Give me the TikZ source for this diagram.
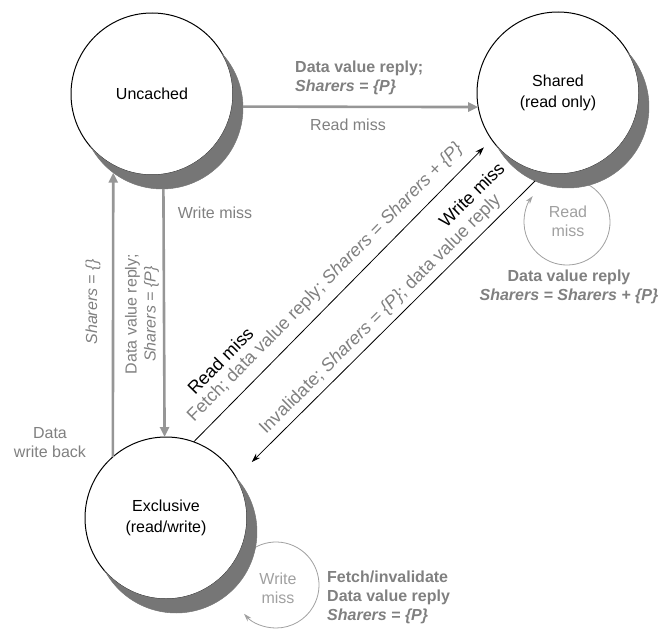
\documentclass[tikz,border=0pt]{standalone}
\usepackage{fontspec}
\setmainfont{Liberation Sans}
\usepackage{tikz}
\usetikzlibrary{arrows.meta}
\definecolor{lblgray}{RGB}{128,128,128}
\definecolor{loopgray}{RGB}{160,160,160}
\definecolor{arrgray}{RGB}{150,150,150}
\definecolor{shadowgrey}{RGB}{118,118,118}

\begin{document}
\begin{tikzpicture}[
    x=1pt, y=1pt,
    state/.style={draw,circle,fill=white,line width=1pt,minimum size=162pt,
      inner sep=0pt,outer sep=0pt,align=center,font=\fontsize{16}{21}\selectfont},
    shadowdisc/.style={circle,minimum size=162pt,inner sep=0pt,outer sep=0pt},
    crescent/.style={fill=shadowgrey,draw=shadowgrey,line width=0.5pt},
    lab/.style={text=lblgray,font=\fontsize{16}{19}\selectfont,inner sep=1pt},
    labb/.style={lab,font=\fontsize{16}{19}\selectfont\bfseries},
    dlab/.style={lab,font=\fontsize{18}{19}\selectfont},
    blab/.style={dlab,text=black},
    llab/.style={lab,text=loopgray},
    thickarr/.style={arrgray,line width=2.6pt,-{Triangle[length=10pt,width=9pt]}},
    thinarr/.style={black,line width=0.8pt,-{Stealth[length=9pt,width=6pt]}},
    loopy/.style={loopgray,line width=0.8pt,-{Stealth[length=8pt,width=5pt]}}
  ]
    \useasboundingbox (0,0) rectangle (664,-629);

    % states and the discs their shadows come from
    \node[shadowdisc] (uncs) at (162,-108) {};
    \node[shadowdisc] (shs) at (568,-107) {};
    \node[shadowdisc] (excs) at (176,-532) {};
    \node[state] (unc) at (152,-94) {Uncached};
    \node[state] (sh) at (558,-93) {Shared\\(read only)};
    \node[state] (exc) at (166,-518) {Exclusive\\(read/write)};

    % self loops go under the shadows
    \coordinate (shloop) at (567,-222);
    \coordinate (exloop) at (276,-585);
    \draw[loopy] ([shift={(62:43)}]shloop) arc[start angle=62,end angle=-217,radius=43];
    \draw[loopy] ([shift={(150:43)}]exloop) arc[start angle=150,end angle=-138,radius=43];

    % shadow crescents: along the shadow disc, back along the state
    \foreach \sd in {uncs,shs,excs}
      \path[crescent] ([shift={(41.6:81)}]\sd.center)
        arc[start angle=41.6,end angle=-150.6,radius=81]
        arc[start angle=-138.4,end angle=29.4,radius=81] -- cycle;

    \draw[thickarr] (uncs.1) -- (sh.190);
    \draw[thickarr] (exc.131) -- (uncs.233);
    \draw[thickarr] (uncs.-89) -- (exc.91);

    \draw[thinarr,shorten >=11pt] (exc.70) -- (sh.215)
      node[blab,pos=.18,sloped,yshift=38pt] (rmA) {Read miss}
      node[dlab,pos=.485,sloped,yshift=18pt] (fetchA)
        {Fetch; data value reply; \textit{Sharers = Sharers + \{P\}}};
    \draw[thinarr,shorten >=22pt] (shs.246) -- (exc.30)
      node[blab,pos=.13,sloped,yshift=35pt] (wmB) {Write miss}
      node[dlab,pos=.484,sloped,yshift=14pt] (invB)
        {Invalidate; \textit{Sharers = \{P\}}; data value reply};

    % labels
    \node[labb,align=left,anchor=west] (dvrU) at (294,-78)
      {Data value reply;\\\textit{Sharers = \{P\}}};
    \node[lab] (rmU) at (348,-125) {Read miss};
    \node[lab] (wmU) at (215,-213) {Write miss};
    \node[lab,rotate=90] (shrE) at (93,-302) {\textit{Sharers = \{\}}};
    \node[lab,rotate=90,align=center] (dvrE) at (142,-314)
      {Data value reply;\\\textit{Sharers = \{P\}}};
    \node[lab,align=center] (dwb) at (50,-443) {Data\\write back};
    \node[llab,align=center] (rmS) at (568,-221) {Read\\miss};
    \node[labb,align=center] (dvrS) at (569,-287)
      {Data value reply\\\textit{Sharers = Sharers + \{P\}}};
    \node[llab,align=center] (wmE) at (278,-588) {Write\\miss};
    \node[labb,align=left,anchor=west] (fiE) at (326,-597)
      {Fetch/invalidate\\Data value reply\\\textit{Sharers = \{P\}}};
\end{tikzpicture}
\end{document}
